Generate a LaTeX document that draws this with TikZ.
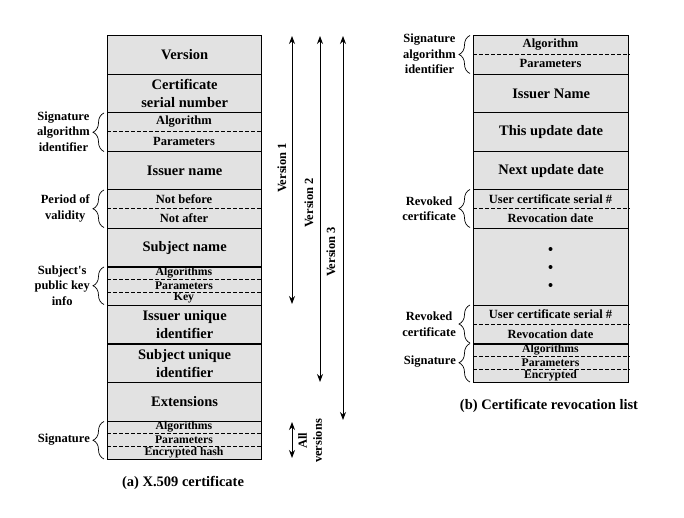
\documentclass[tikz,border=0pt]{standalone}
\usepackage{fontspec}
\setmainfont{Liberation Serif}
\usetikzlibrary{decorations.pathreplacing,arrows.meta}
\definecolor{boxgray}{RGB}{226,226,226}
\begin{document}
\begin{tikzpicture}[x=1pt,y=-1pt,
  row/.style={draw, line width=1.3pt, fill=boxgray, minimum width=154pt, minimum height=38.55pt,
    inner sep=0pt, anchor=north west, align=center, font=\bfseries\fontsize{14.5}{17.5}\selectfont},
  rrow/.style={row, minimum width=155pt},
  subtext/.style={inner sep=0pt, font=\bfseries\fontsize{12.5}{14}\selectfont},
  tinytext/.style={inner sep=0pt, font=\bfseries\fontsize{11.7}{13}\selectfont},
  dline/.style={dashed, line width=0.7pt, dash pattern=on 3.5pt off 2.5pt},
  lab/.style={inner sep=1pt, anchor=east, align=center, font=\bfseries\fontsize{12.5}{15.5}\selectfont},
  brc/.style={decorate, decoration={brace, amplitude=11pt}, line width=0.7pt},
  varrow/.style={line width=0.8pt, {Stealth[length=8pt,width=6pt]}-{Stealth[length=8pt,width=6pt]}},
  vlab/.style={rotate=90, inner sep=0pt, align=center, font=\bfseries\fontsize{12.5}{15}\selectfont},
  captext/.style={inner sep=0pt, font=\bfseries\fontsize{14.5}{17}\selectfont}]
\useasboundingbox (0,0) rectangle (684,518);
% ---------- (a) X.509 certificate ----------
\node[row] (ver) at (107,35) {Version};
\node[row] (csn) at (107,73.55) {Certificate\\serial number};
\node[row] (sai) at (107,112.1) {};
\node[subtext] (saialg) at (184,121.75) {Algorithm};
\node[subtext] (saipar) at (184,141.0) {Parameters};
\draw[dline] (sai.west |- 0,131.4) -- (sai.east |- 0,131.4);
\node[row] (iss) at (107,150.65) {Issuer name};
\node[row] (pov) at (107,189.2) {};
\node[subtext] (nb) at (184,198.85) {Not before};
\node[subtext] (na) at (184,218.1) {Not after};
\draw[dline] (pov.west |- 0,208.5) -- (pov.east |- 0,208.5);
\node[row] (sbj) at (107,227.75) {Subject name};
\node[row] (pki) at (107,266.3) {};
\node[tinytext] (pkialg) at (184,272.8) {Algorithms};
\node[tinytext] (pkipar) at (184,285.6) {Parameters};
\node[tinytext] (pkikey) at (184,298.3) {Key};
\draw[dline] (pki.west |- 0,279.15) -- (pki.east |- 0,279.15);
\draw[dline] (pki.west |- 0,292.0) -- (pki.east |- 0,292.0);
\node[row] (iui) at (107,304.85) {Issuer unique\\identifier};
\node[row] (sui) at (107,343.4) {Subject unique\\identifier};
\node[row] (ext) at (107,381.95) {Extensions};
\node[row] (sig) at (107,420.5) {};
\node[tinytext] (sigalg) at (184,427.0) {Algorithms};
\node[tinytext] (sigpar) at (184,439.8) {Parameters};
\node[tinytext] (sighash) at (184,452.5) {Encrypted hash};
\draw[dline] (sig.west |- 0,433.35) -- (sig.east |- 0,433.35);
\draw[dline] (sig.west |- 0,446.2) -- (sig.east |- 0,446.2);
% left labels and braces
\coordinate (b1t) at (104,113); \coordinate (b1b) at (104,151.5);
\draw[brc] (b1b) -- (b1t);
\node[lab] (l1) at (91,131.5) {Signature\\algorithm\\identifier};
\coordinate (b2t) at (104,190); \coordinate (b2b) at (104,227.5);
\draw[brc] (b2b) -- (b2t);
\node[lab] (l2) at (91,208.5) {Period of\\validity};
\coordinate (b3t) at (104,267); \coordinate (b3b) at (104,304.5);
\draw[brc] (b3b) -- (b3t);
\node[lab] (l3) at (91,285.5) {Subject\textquotesingle s\\public key\\info};
\coordinate (b4t) at (104,421.5); \coordinate (b4b) at (104,459);
\draw[brc] (b4b) -- (b4t);
\node[lab] (l4) at (91,440) {Signature};
% version arrows
\coordinate (v1t) at (292,36); \coordinate (v1b) at (292,304);
\coordinate (v2t) at (320,36); \coordinate (v2b) at (320,382);
\coordinate (v3t) at (343,36); \coordinate (v3b) at (343,420);
\coordinate (vat) at (292,422); \coordinate (vab) at (292,458);
\draw[varrow] (v1t) -- (v1b);
\draw[varrow] (v2t) -- (v2b);
\draw[varrow] (v3t) -- (v3b);
\draw[varrow] (vat) -- (vab);
\node[vlab] (vl1) at (282,168) {Version 1};
\node[vlab] (vl2) at (309,203) {Version 2};
\node[vlab] (vl3) at (331,252) {Version 3};
\node[vlab] (vla) at (310,441) {All\\versions};
\node[captext] (capa) at (183,483) {(a) X.509 certificate};
% ---------- (b) CRL ----------
\node[rrow] (rsa) at (473,35) {};
\node[subtext] (rsaalg) at (550.5,44.65) {Algorithm};
\node[subtext] (rsapar) at (550.5,63.9) {Parameters};
\draw[dline] (rsa.west |- 0,54.3) -- (rsa.east |- 0,54.3);
\node[rrow] (riss) at (473,73.55) {Issuer Name};
\node[rrow] (rthis) at (473,112.1) {This update date};
\node[rrow] (rnext) at (473,150.65) {Next update date};
\node[rrow] (rrev1) at (473,189.2) {};
\node[subtext] (rrev1a) at (550.5,198.85) {User certificate serial \#};
\node[subtext] (rrev1b) at (550.5,218.1) {Revocation date};
\draw[dline] (rrev1.west |- 0,208.5) -- (rrev1.east |- 0,208.5);
\node[rrow, minimum height=77.1pt] (rdots) at (473,227.75) {};
\fill (550.5,249) circle (2pt) coordinate (d1);
\fill (550.5,267) circle (2pt) coordinate (d2);
\fill (550.5,285) circle (2pt) coordinate (d3);
\node[rrow] (rrev2) at (473,304.85) {};
\node[subtext] (rrev2a) at (550.5,314.5) {User certificate serial \#};
\node[subtext] (rrev2b) at (550.5,333.75) {Revocation date};
\draw[dline] (rrev2.west |- 0,324.1) -- (rrev2.east |- 0,324.1);
\node[rrow] (rsig) at (473,343.4) {};
\node[tinytext] (rsigalg) at (550.5,349.9) {Algorithms};
\node[tinytext] (rsigpar) at (550.5,362.7) {Parameters};
\node[tinytext] (rsigenc) at (550.5,375.4) {Encrypted};
\draw[dline] (rsig.west |- 0,356.25) -- (rsig.east |- 0,356.25);
\draw[dline] (rsig.west |- 0,369.1) -- (rsig.east |- 0,369.1);
% right labels and braces
\coordinate (rb1t) at (470,35.5); \coordinate (rb1b) at (470,73.5);
\draw[brc] (rb1b) -- (rb1t);
\node[lab] (rl1) at (457,54) {Signature\\algorithm\\identifier};
\coordinate (rb2t) at (470,189.5); \coordinate (rb2b) at (470,227.5);
\draw[brc] (rb2b) -- (rb2t);
\node[lab] (rl2) at (457,208.5) {Revoked\\certificate};
\coordinate (rb3t) at (470,305); \coordinate (rb3b) at (470,343);
\draw[brc] (rb3b) -- (rb3t);
\node[lab] (rl3) at (457,324) {Revoked\\certificate};
\coordinate (rb4t) at (470,343.5); \coordinate (rb4b) at (470,382);
\draw[brc] (rb4b) -- (rb4t);
\node[lab] (rl4) at (457,362) {Signature};
\node[captext] (capb) at (549,406) {(b) Certificate revocation list};
\end{tikzpicture}
\end{document}
